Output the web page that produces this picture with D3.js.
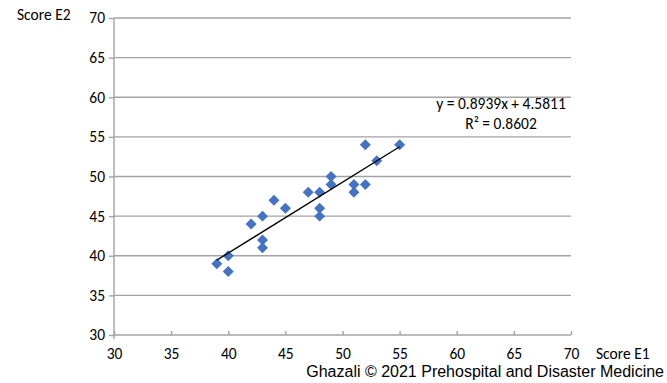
<!DOCTYPE html>
<html>
<head>
<meta charset="utf-8">
<script src="https://cdn.jsdelivr.net/npm/d3@7"></script>
<style>
  html, body { margin: 0; padding: 0; background: #fff; }
  svg { display: block; }
  .lbl { font-family: Carlito, Lato, "Liberation Sans", sans-serif; font-size: 15.5px; fill: #000; }
  .credit { font-family: "Liberation Sans", Arial, sans-serif; font-size: 16px; fill: #000; }
</style>
</head>
<body>
<div id="chart"></div>
<script>
// paired scores, one entry per participant
const scoreE1 = [39, 40, 40, 42, 43, 43, 43, 44, 45, 47, 48, 48, 48, 49, 49, 51, 51, 52, 52, 53, 55];
const scoreE2 = [39, 40, 38, 44, 45, 42, 41, 47, 46, 48, 48, 46, 45, 50, 49, 49, 48, 54, 49, 52, 54];

const ticks = [30, 35, 40, 45, 50, 55, 60, 65, 70];

// linear trendline as reported on the chart
const slope = 0.8939;
const intercept = 4.5811;
const rSquared = 0.8602;

const width = 667;
const height = 383;
const gridColor = '#a3a3a3';
const markerColor = '#4472c4';

const x = d3.scaleLinear().domain([30, 70]).range([114, 571]);
const y = d3.scaleLinear().domain([30, 70]).range([335, 18]);

const svg = d3.select('#chart')
  .append('svg')
  .attr('width', width)
  .attr('height', height);

// horizontal gridlines
svg.append('g')
  .selectAll('line')
  .data(ticks.slice(1))
  .join('line')
  .attr('x1', x(30))
  .attr('x2', x(70))
  .attr('y1', d => y(d))
  .attr('y2', d => y(d))
  .attr('stroke', gridColor)
  .attr('stroke-width', 1.4);

// y axis
const yAxis = svg.append('g')
  .attr('transform', `translate(${x(30)},0)`)
  .call(d3.axisLeft(y).tickValues(ticks).tickSize(5).tickPadding(4));

// x axis, ticks point up into the plot
const xAxis = svg.append('g')
  .attr('transform', `translate(0,${y(30)})`)
  .call(d3.axisBottom(x).tickValues(ticks).tickSize(-4).tickPadding(14));

[yAxis, xAxis].forEach(axis => {
  axis.attr('font-size', null).attr('font-family', null);
  axis.select('.domain').remove();
  axis.selectAll('line').attr('stroke', gridColor).attr('stroke-width', 1.4);
  axis.selectAll('text').attr('class', 'lbl').attr('fill', '#000');
});
xAxis.selectAll('text').attr('dy', null).attr('y', 24);

svg.append('line')
  .attr('x1', x(30)).attr('x2', x(30))
  .attr('y1', y(70)).attr('y2', y(30) + 4)
  .attr('stroke', gridColor).attr('stroke-width', 1.4);
svg.append('line')
  .attr('x1', x(30)).attr('x2', x(70))
  .attr('y1', y(30)).attr('y2', y(30))
  .attr('stroke', gridColor).attr('stroke-width', 1.4);

// points
const diamond = d3.symbol(d3.symbolSquare, 60);
svg.append('g')
  .selectAll('path')
  .data(scoreE1.map((v, i) => [v, scoreE2[i]]))
  .join('path')
  .attr('d', diamond)
  .attr('transform', d => `translate(${x(d[0])},${y(d[1])}) rotate(45)`)
  .attr('fill', markerColor);

// trendline over the data range
const xMin = d3.min(scoreE1);
const xMax = d3.max(scoreE1);
svg.append('line')
  .attr('x1', x(xMin)).attr('y1', y(slope * xMin + intercept))
  .attr('x2', x(xMax)).attr('y2', y(slope * xMax + intercept))
  .attr('stroke', '#000')
  .attr('stroke-width', 1.3);

// equation label
const eq = svg.append('text').attr('class', 'lbl').attr('text-anchor', 'middle');
eq.append('tspan').attr('x', 501).attr('y', 109)
  .text(`y = ${slope}x + ${intercept}`);
eq.append('tspan').attr('x', 501).attr('y', 129)
  .text(`R² = ${rSquared}`);

// axis titles
svg.append('text').attr('class', 'lbl')
  .attr('x', 17).attr('y', 20)
  .text('Score E2');
svg.append('text').attr('class', 'lbl')
  .attr('x', 596).attr('y', 359)
  .text('Score E1');

svg.append('text').attr('class', 'credit')
  .attr('x', 664).attr('y', 377)
  .attr('text-anchor', 'end')
  .text('Ghazali © 2021 Prehospital and Disaster Medicine');
</script>
</body>
</html>
